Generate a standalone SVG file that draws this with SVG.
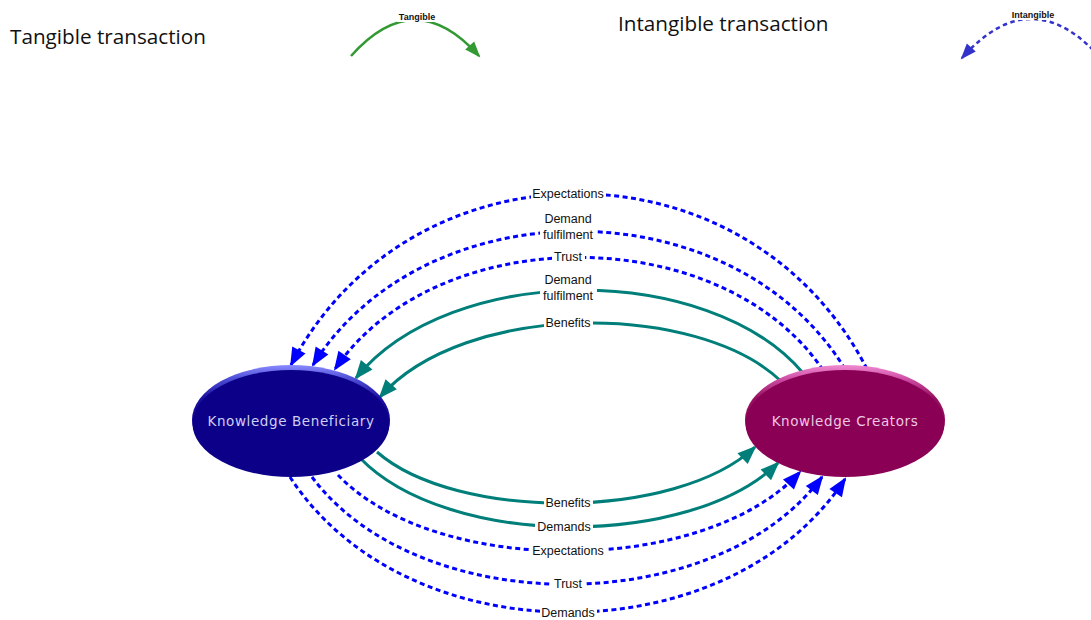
<svg xmlns="http://www.w3.org/2000/svg" width="1091" height="620" viewBox="0 0 1091 620">
<style>
.title{font-family:"Open Sans","Liberation Sans",sans-serif;font-size:20.7px;fill:#111}
.lbl{font-family:"Liberation Sans",Arial,sans-serif;font-size:12.5px;fill:#111;text-anchor:middle}
.leg{font-family:"Liberation Sans",Arial,sans-serif;font-size:9px;font-weight:bold;fill:#111;text-anchor:middle}
.bg{fill:#fff}
.tan{fill:none;stroke:#007f7a;stroke-width:3}
.intan{fill:none;stroke:#0000ff;stroke-width:3;stroke-dasharray:5 3.5}
.ntext{font-family:"DejaVu Sans",Verdana,sans-serif;font-size:13.5px;letter-spacing:0.6px;text-anchor:middle}
</style>
<defs>
<marker id="ab" markerUnits="userSpaceOnUse" markerWidth="22" markerHeight="18" refX="17" refY="7.5" orient="auto" overflow="visible"><path d="M0,0 L19,7.5 L0,15 Z" fill="#0000ff"/></marker>
<marker id="at" markerUnits="userSpaceOnUse" markerWidth="22" markerHeight="18" refX="17" refY="7.5" orient="auto" overflow="visible"><path d="M0,0 L19,7.5 L0,15 Z" fill="#007f7a"/></marker>
<marker id="ag" markerUnits="userSpaceOnUse" markerWidth="18" markerHeight="14" refX="14" refY="6" orient="auto" overflow="visible"><path d="M0,0 L16,6 L0,12 Z" fill="#339933"/></marker>
<marker id="al" markerUnits="userSpaceOnUse" markerWidth="18" markerHeight="14" refX="14" refY="6" orient="auto" overflow="visible"><path d="M0,0 L16,6 L0,12 Z" fill="#3333cc"/></marker>
<linearGradient id="rimB" x1="0" y1="0" x2="0" y2="1"><stop offset="0" stop-color="#8a8aff"/><stop offset="0.12" stop-color="#5050d8"/><stop offset="0.3" stop-color="#1a10a0"/><stop offset="1" stop-color="#0c0089"/></linearGradient>
<linearGradient id="rimC" x1="0" y1="0" x2="0" y2="1"><stop offset="0" stop-color="#f08ad0"/><stop offset="0.12" stop-color="#d050a8"/><stop offset="0.3" stop-color="#95105f"/><stop offset="1" stop-color="#8a0055"/></linearGradient>
</defs>

<g id="legend-tangible">
<text class="title" x="10" y="44">Tangible transaction</text>
<path d="M351,56 Q415,-16 479,56" fill="none" stroke="#339933" stroke-width="2.5" marker-end="url(#ag)"/>
<rect class="bg" x="397" y="11" width="40" height="11"/>
<text class="leg" x="417" y="20">Tangible</text>
</g>
<g id="legend-intangible">
<text class="title" x="618" y="31">Intangible transaction</text>
<path d="M1104,62 Q1033,-22 962,58" fill="none" stroke="#3333cc" stroke-width="2.5" stroke-dasharray="4.5 3.5" marker-end="url(#al)"/>
<rect class="bg" x="1010" y="9" width="46" height="11"/>
<text class="leg" x="1033" y="18">Intangible</text>
</g>

<g id="connectors">
<path class="intan" d="M867,369 C747,136 411,136 291,365" marker-end="url(#ab)"/>
<path class="intan" d="M845,369 C733,186 425,186 313,365" marker-end="url(#ab)"/>
<path class="intan" d="M823,370 C721,220 437,220 335,369" marker-end="url(#ab)"/>
<path class="tan" d="M803,373 C709,262 450,262 356,378" marker-end="url(#at)"/>
<path class="tan" d="M782,382 C698,301 464,301 380,397" marker-end="url(#at)"/>
<path class="tan" d="M377,452 C456,521 676,521 755,447" marker-end="url(#at)"/>
<path class="tan" d="M360,458 C448,549 690,549 778,463" marker-end="url(#at)"/>
<path class="intan" d="M338,475 C435,577 703,577 800,472" marker-end="url(#ab)"/>
<path class="intan" d="M312,477 C419,620 715,620 822,477" marker-end="url(#ab)"/>
<path class="intan" d="M290,477 C407,657 728,657 845,479" marker-end="url(#ab)"/>

<rect class="bg" x="531" y="187" width="75" height="14"/>
<text class="lbl" x="568" y="198">Expectations</text>
<rect class="bg" x="540" y="211" width="57" height="31"/>
<text class="lbl" x="568" y="223">Demand</text>
<text class="lbl" x="568" y="239">fulfilment</text>
<rect class="bg" x="552" y="250" width="33" height="14"/>
<text class="lbl" x="568" y="261">Trust</text>
<rect class="bg" x="540" y="272" width="57" height="31"/>
<text class="lbl" x="568" y="284">Demand</text>
<text class="lbl" x="568" y="300">fulfilment</text>
<rect class="bg" x="544" y="316" width="49" height="14"/>
<text class="lbl" x="568" y="327">Benefits</text>

<rect class="bg" x="544" y="496" width="49" height="14"/>
<text class="lbl" x="568" y="507">Benefits</text>
<rect class="bg" x="535" y="520" width="58" height="14"/>
<text class="lbl" x="564" y="531">Demands</text>
<rect class="bg" x="531" y="544" width="75" height="14"/>
<text class="lbl" x="568" y="555">Expectations</text>
<rect class="bg" x="552" y="577" width="33" height="14"/>
<text class="lbl" x="568" y="588">Trust</text>
<rect class="bg" x="540" y="606" width="57" height="14"/>
<text class="lbl" x="568" y="617">Demands</text>
</g>

<g id="node-beneficiary">
<ellipse cx="291" cy="420" rx="99" ry="55" fill="url(#rimB)"/>
<ellipse cx="291" cy="423.5" rx="98.5" ry="53.5" fill="#0c0089"/>
<text class="ntext" x="291" y="426" fill="#cfcff2">Knowledge Beneficiary</text>
</g>
<g id="node-creators">
<ellipse cx="845" cy="420" rx="100" ry="55" fill="url(#rimC)"/>
<ellipse cx="845" cy="423.5" rx="99.5" ry="53.5" fill="#8a0055"/>
<text class="ntext" x="845" y="426" fill="#ecc8e2">Knowledge Creators</text>
</g>
</svg>
